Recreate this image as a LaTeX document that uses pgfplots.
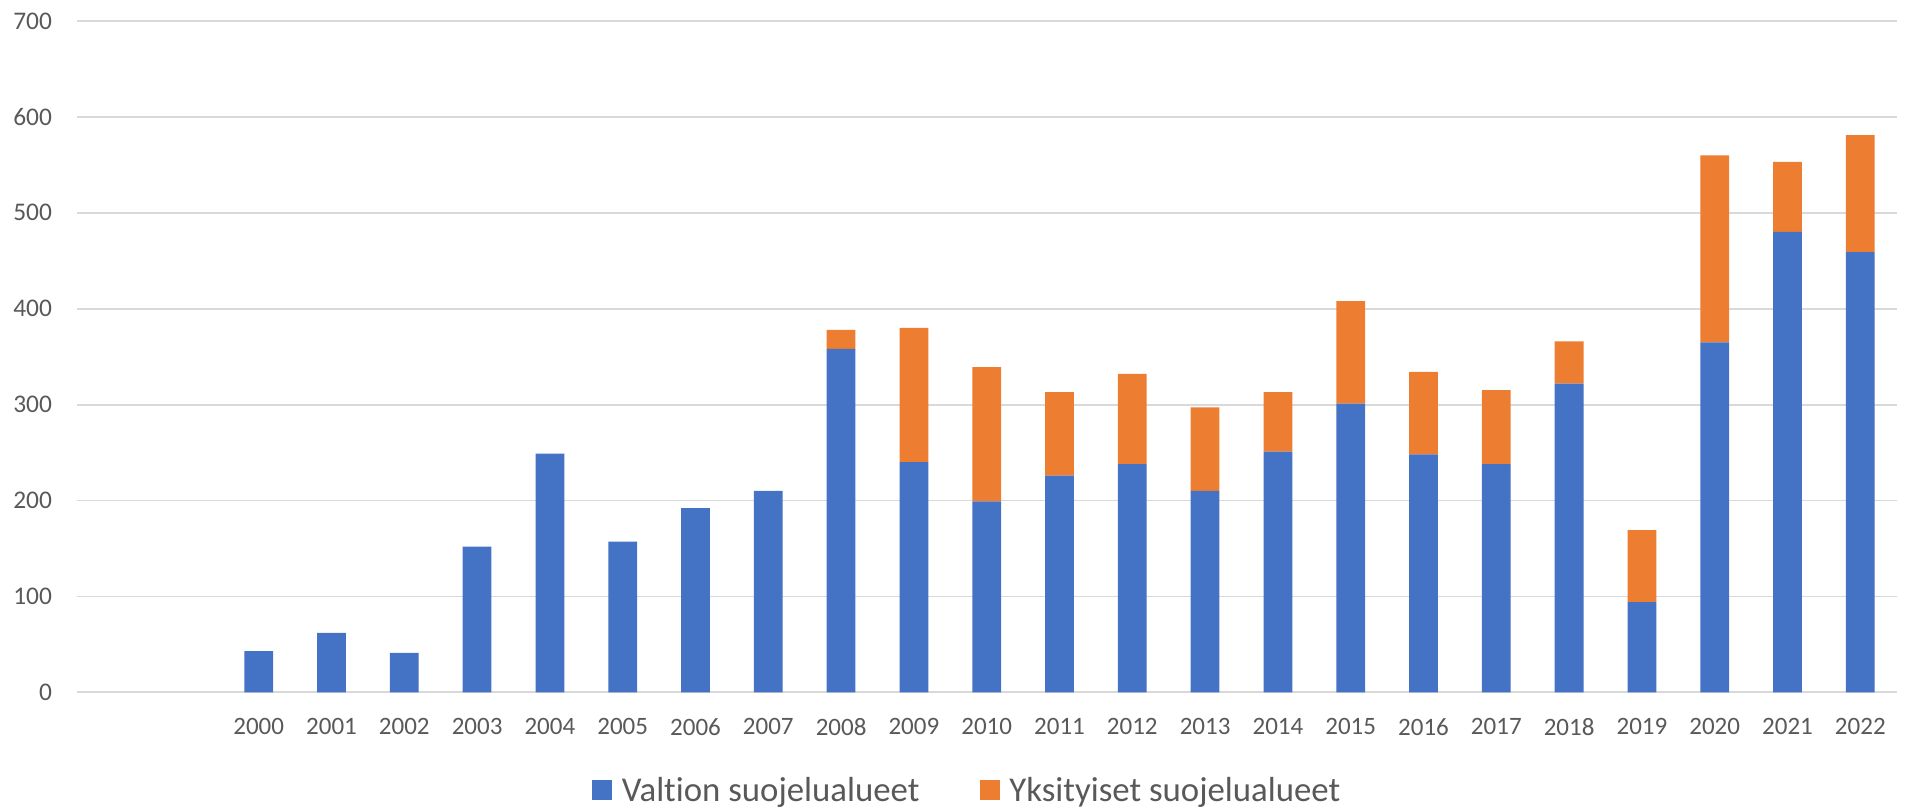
\documentclass[border=0pt]{standalone}
\usepackage{pgfplots}
\pgfplotsset{compat=1.18}
\usepackage{pgfplotstable}
\usepackage{fontspec}
\setmainfont{Carlito}[Ligatures=NoCommon]
\definecolor{cblue}{HTML}{4472C4}
\definecolor{corange}{HTML}{ED7D31}
\definecolor{gridgray}{HTML}{D9D9D9}
\definecolor{txtgray}{HTML}{595959}
\pgfplotstableread{
idx year blue orange
0 2000 43 0
1 2001 62 0
2 2002 41 0
3 2003 152 0
4 2004 249 0
5 2005 157 0
6 2006 192 0
7 2007 210 0
8 2008 358 20
9 2009 240 140
10 2010 199 140
11 2011 226 87
12 2012 238 94
13 2013 210 87
14 2014 251 62
15 2015 301 107
16 2016 248 86
17 2017 238 77
18 2018 322 44
19 2019 94 75
20 2020 365 195
21 2021 480 73
22 2022 459 122
}\datatable
\begin{document}
\begin{tikzpicture}
\begin{axis}[
  at={(0,0)}, anchor=south west,
  scale only axis, width=910pt, height=335.65pt,
  ybar stacked, bar width=0.395,
  xmin=-2.5, xmax=22.5, ymin=0, ymax=700,
  xtick={0,...,22},
  xticklabels={2000,2001,2002,2003,2004,2005,2006,2007,2008,2009,2010,2011,2012,2013,2014,2015,2016,2017,2018,2019,2020,2021,2022},
  ytick={0,100,...,700},
  /pgf/number format/assume math mode=true,
  axis line style={draw=none},
  major tick length=0pt,
  ymajorgrids, grid style={color=gridgray, line width=0.9pt},
  xticklabel style={font=\fontsize{12.5}{14}\selectfont, text=txtgray, inner sep=0pt, anchor=north},
  xticklabel shift=13pt,
  yticklabel style={font=\fontsize{12.7}{14}\selectfont, text=txtgray, inner sep=0pt, anchor=east},
  yticklabel shift=12.2pt,
  legend style={at={(axis description cs:0.4888,-0.1475)}, anchor=center, draw=none, fill=none,
    legend columns=2, font=\fontsize{17.4}{19}\selectfont, text=txtgray,
    /tikz/every odd column/.append style={column sep=4.7pt},
    /tikz/every even column/.append style={column sep=30.2pt},
    nodes={inner sep=0pt}},
  legend image code/.code={\fill[#1] (0pt,-4.5pt) rectangle (10pt,5.5pt);},
  legend cell align=left,
]
\addplot[fill=cblue, draw=none] table[x=idx, y=blue] {\datatable};
\addlegendentry{Valtion suojelualueet}
\addplot[fill=corange, draw=none] table[x=idx, y=orange] {\datatable};
\addlegendentry{Yksityiset suojelualueet}
\end{axis}
\pgfresetboundingbox
\path[use as bounding box] (-38.35pt,-58.35pt) rectangle (916.65pt,346.15pt);
\end{tikzpicture}
\end{document}
